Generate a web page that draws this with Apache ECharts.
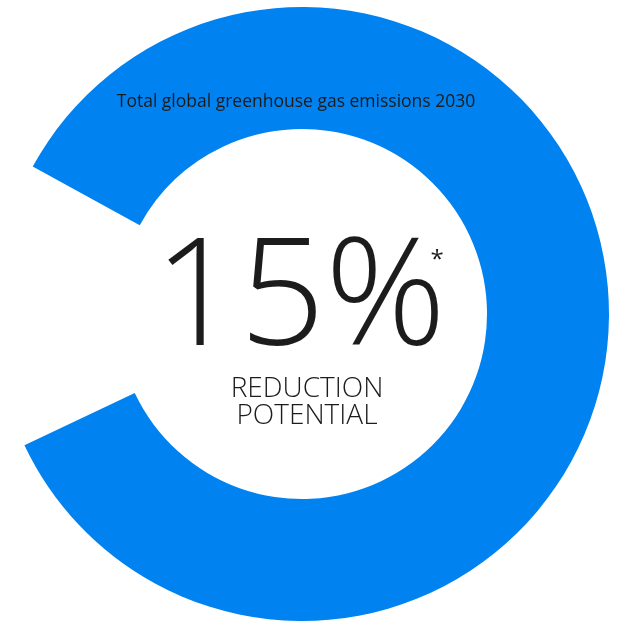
<!DOCTYPE html>
<html>
<head>
<meta charset="utf-8">
<script src="https://cdn.jsdelivr.net/npm/echarts@6/dist/echarts.min.js"></script>
<style>
  html, body { margin: 0; padding: 0; background: #ffffff; }
  #chart { width: 621px; height: 621px; }
</style>
</head>
<body>
<div id="chart"></div>
<script>
// Share of 2030 global greenhouse gas emissions: remaining vs. reduction potential
const categories = ['Remaining emissions', 'Reduction potential'];
const shares = [85, 15];
const titleText = 'Total global greenhouse gas emissions 2030';
const subLabel = ['REDUCTION', 'POTENTIAL'];

const BLUE = '#0082F0';
const INK = '#1c1c1c';

const reduction = shares[1];
// the reduction slice is left open as a gap, centred just above the left horizontal
const gapDeg = 360 * (reduction / 100);
const startAngle = 178.3 - gapDeg / 2;

const chart = echarts.init(document.getElementById('chart'), null, { renderer: 'canvas' });

chart.setOption({
  animation: false,
  backgroundColor: '#ffffff',
  series: [{
    type: 'pie',
    z: 1,
    center: [302, 314],
    radius: [185, 307],
    startAngle: startAngle,
    clockwise: true,
    silent: true,
    label: { show: false },
    labelLine: { show: false },
    emphasis: { disabled: true },
    data: categories.map((name, i) => ({
      name: name,
      value: shares[i],
      itemStyle: { color: i === 0 ? BLUE : 'rgba(0,0,0,0)' }
    }))
  }],
  graphic: [
    {
      type: 'text',
      z: 100,
      x: 296, y: 102,
      style: {
        text: titleText,
        fill: INK,
        font: '17.5px "Open Sans", sans-serif',
        align: 'center',
        verticalAlign: 'middle'
      }
    },
    {
      type: 'text',
      z: 100,
      x: 300, y: 302,
      style: {
        text: reduction + '%',
        fill: INK,
        font: '300 150px "Open Sans", sans-serif',
        align: 'center',
        verticalAlign: 'middle'
      }
    },
    {
      type: 'text',
      z: 100,
      x: 437, y: 260,
      style: {
        text: '*',
        fill: INK,
        font: '24px "Open Sans", sans-serif',
        align: 'center',
        verticalAlign: 'middle'
      }
    },
    {
      type: 'text',
      z: 100,
      x: 307, y: 403,
      style: {
        text: subLabel.join('\n'),
        fill: INK,
        font: '300 28px "Open Sans", sans-serif',
        lineHeight: 27,
        align: 'center',
        verticalAlign: 'middle'
      }
    }
  ]
});
</script>
</body>
</html>
